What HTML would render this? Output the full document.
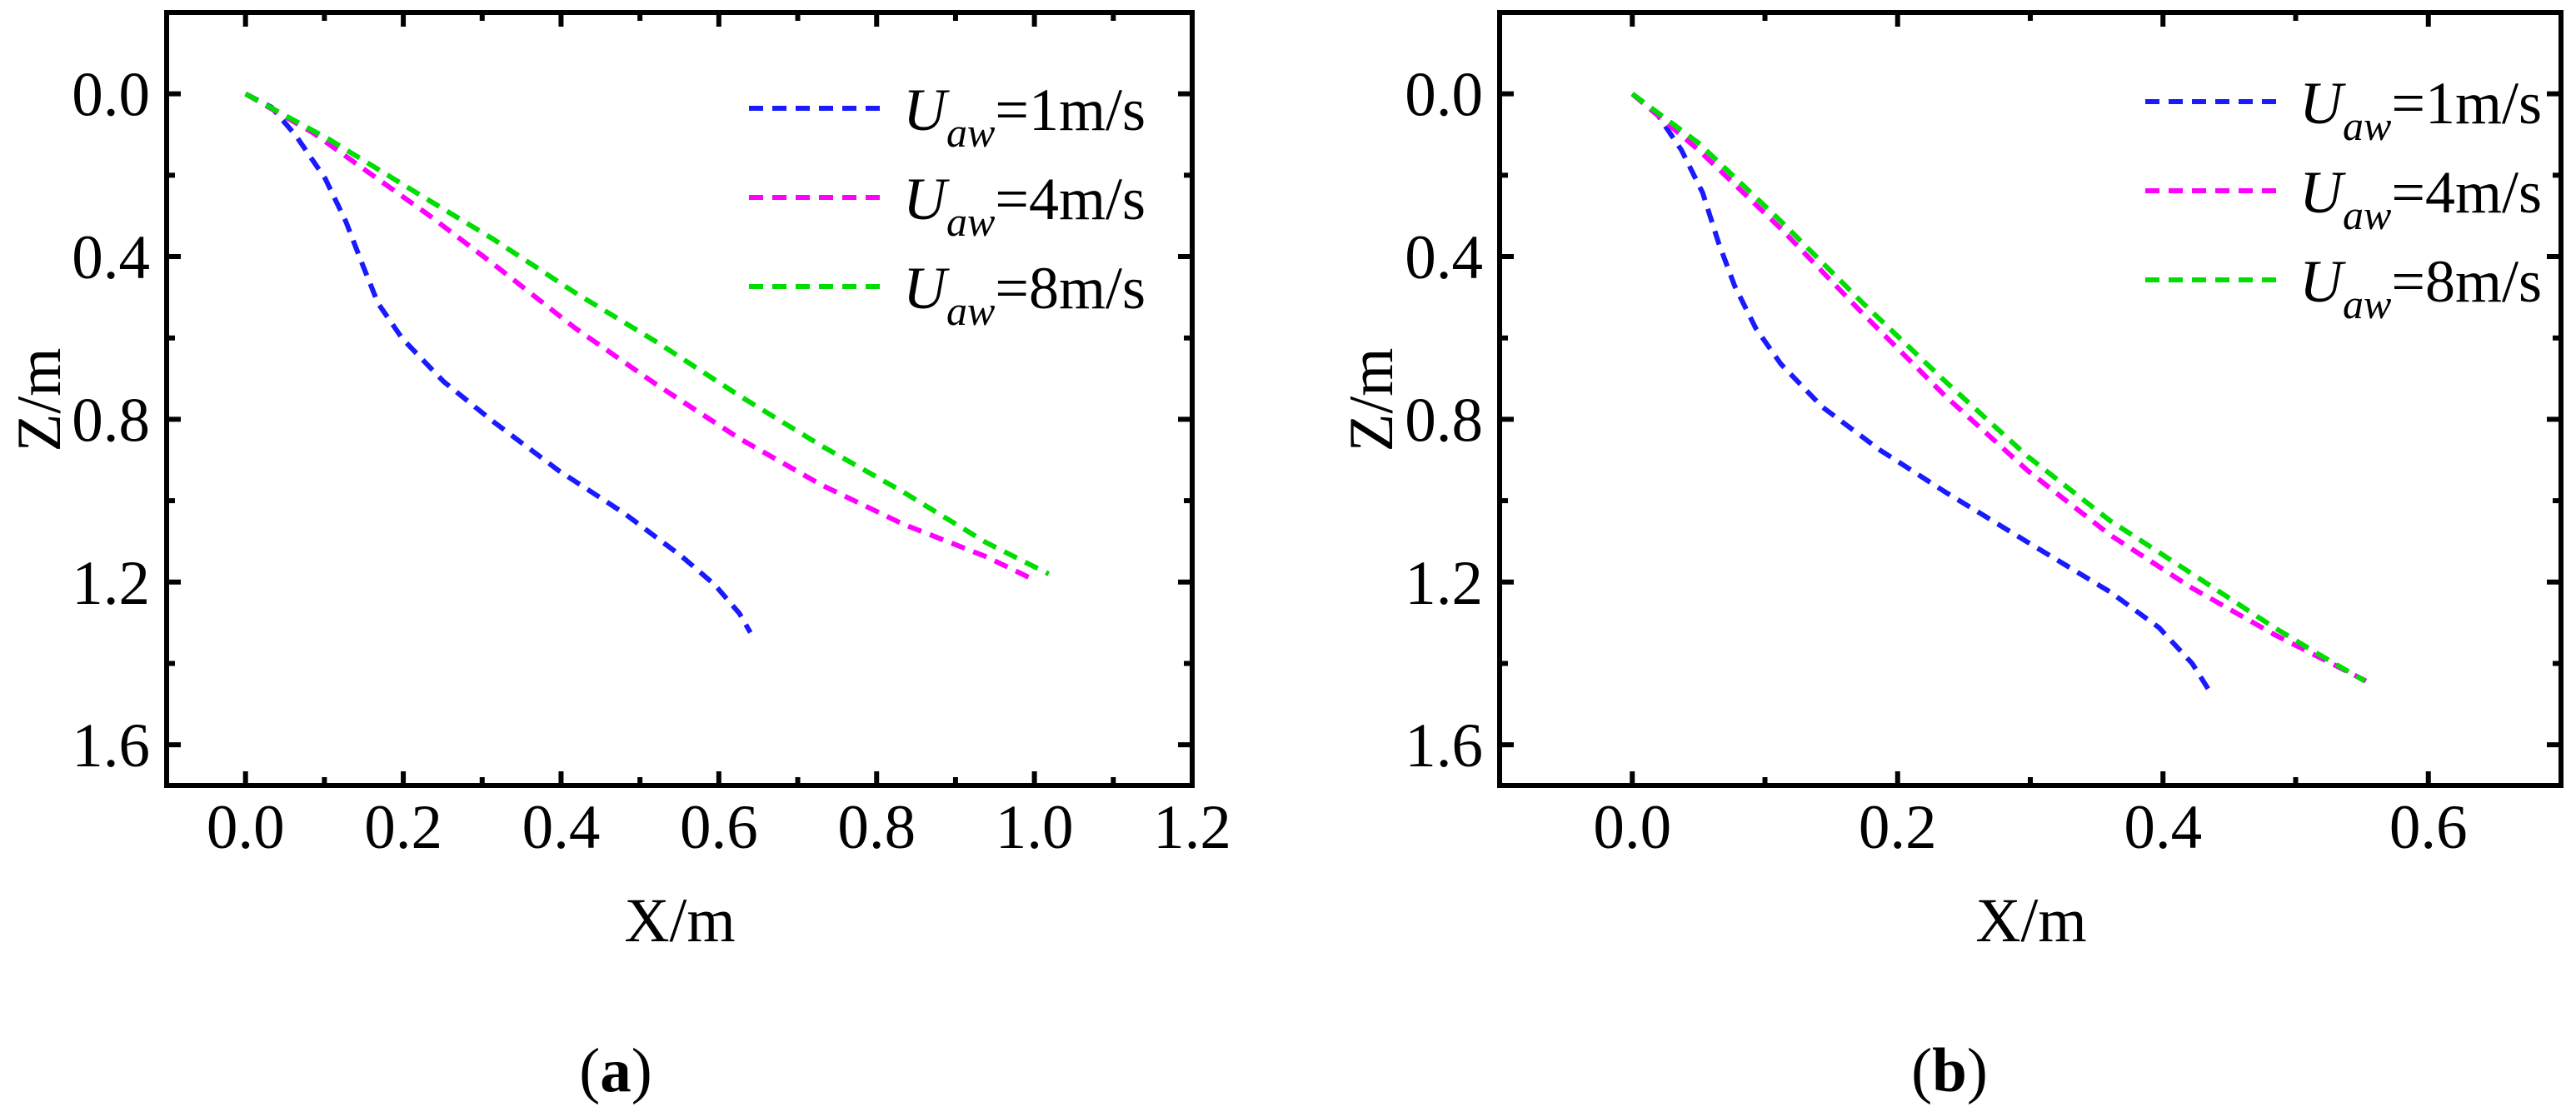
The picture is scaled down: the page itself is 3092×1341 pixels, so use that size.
<!DOCTYPE html>
<html><head><meta charset="utf-8"><style>
html,body{margin:0;padding:0;background:#fff;}
svg{display:block;font-family:"Liberation Serif",serif;}
</style></head><body>
<svg id="fig" width="3092" height="1341" viewBox="0 0 3092 1341" xmlns="http://www.w3.org/2000/svg">
<g id="pa"></g>
<g id="pb"></g>
<text x="739" y="1310" font-size="75" text-anchor="middle">(<tspan font-weight="bold">a</tspan>)</text>
<text x="2340" y="1310" font-size="75" text-anchor="middle">(<tspan font-weight="bold">b</tspan>)</text>
</svg>
<script>
// Panel (a) data
const aBlueX=[0,0.033,0.064,0.101,0.127,0.148,0.168,0.199,0.251,0.313,0.397,0.480,0.553,0.595,0.626,0.640];
const aBlueZ=[0,0.033,0.103,0.208,0.313,0.418,0.515,0.602,0.707,0.804,0.926,1.031,1.137,1.207,1.277,1.324];
const aMagX=[0,0.085,0.148,0.231,0.314,0.418,0.522,0.626,0.730,0.834,0.938,0.998];
const aMagZ=[0,0.095,0.182,0.296,0.418,0.576,0.716,0.847,0.961,1.058,1.137,1.193];
const aGrnX=[0,0.106,0.210,0.314,0.418,0.522,0.626,0.730,0.834,0.938,1.018];
const aGrnZ=[0,0.112,0.235,0.357,0.489,0.611,0.742,0.865,0.979,1.102,1.18];
// Panel (b) data
const bBlueX=[0,0.019,0.037,0.053,0.065,0.077,0.093,0.112,0.143,0.186,0.236,0.298,0.360,0.397,0.422,0.437];
const bBlueZ=[0,0.051,0.138,0.243,0.366,0.471,0.576,0.664,0.769,0.874,0.979,1.102,1.224,1.312,1.400,1.478];
const bMagX=[0,0.050,0.112,0.174,0.236,0.298,0.360,0.422,0.484,0.553];
const bMagZ=[0,0.138,0.331,0.541,0.743,0.926,1.084,1.215,1.329,1.443];
const bGrnX=[0,0.050,0.112,0.174,0.236,0.298,0.360,0.422,0.484,0.515,0.552];
const bGrnZ=[0,0.121,0.313,0.515,0.707,0.891,1.049,1.180,1.312,1.373,1.443];
const aXTicks=[0,0.2,0.4,0.6,0.8,1.0,1.2];
const aXLabels=["0.0","0.2","0.4","0.6","0.8","1.0","1.2"];
const bXTicks=[0,0.2,0.4,0.6];
const bXLabels=["0.0","0.2","0.4","0.6"];
const zTicks=[0,0.4,0.8,1.2,1.6];
const zLabels=["0.0","0.4","0.8","1.2","1.6"];
const legendLabels=["1m/s","4m/s","8m/s"];
const colors=["#1a1aff","#ff00ff","#00dd00"];
const NS="http://www.w3.org/2000/svg";
function mk(p,tag,at){const e=document.createElementNS(NS,tag);for(const k in at)e.setAttribute(k,at[k]);p.appendChild(e);return e;}

function panel(g,cfg){
  const sx=v=>cfg.L+(v-cfg.x0)/(cfg.x1-cfg.x0)*(cfg.R-cfg.L);
  const sy=v=>cfg.T+(v-(-0.2))/(1.7-(-0.2))*(cfg.B-cfg.T);
  // ticks
  for(let v=cfg.x0;v<=cfg.x1+1e-9;v+=0.1){
    const major=cfg.xt.some(t=>Math.abs(t-v)<1e-6);const len=major?17:10;const x=sx(v);
    let t=mk(g,'line',{x1:x,y1:cfg.B,x2:x,y2:cfg.B-len,stroke:'#000','stroke-width':6});
    
    
    t=mk(g,'line',{x1:x,y1:cfg.T,x2:x,y2:cfg.T+len,stroke:'#000','stroke-width':6});
    
    
  }
  for(let v=-0.2;v<=1.7+1e-9;v+=0.2){
    const major=zTicks.some(t=>Math.abs(t-v)<1e-6);const len=major?17:10;const y=sy(v);
    let t=mk(g,'line',{x1:cfg.L,y1:y,x2:cfg.L+len,y2:y,stroke:'#000','stroke-width':6});
    
    
    t=mk(g,'line',{x1:cfg.R,y1:y,x2:cfg.R-len,y2:y,stroke:'#000','stroke-width':6});
    
    
  }
  const fr=mk(g,'rect',{x:cfg.L,y:cfg.T,width:cfg.R-cfg.L,height:cfg.B-cfg.T,fill:'none',stroke:'#000','stroke-width':6});
  
  
  cfg.xt.forEach((v,i)=>{const t=mk(g,'text',{x:sx(v),y:1018,'font-size':75,'text-anchor':'middle'});t.textContent=cfg.xl[i];
    
    });
  zTicks.forEach((v,i)=>{const t=mk(g,'text',{x:cfg.L-20,y:sy(v)+26,'font-size':75,'text-anchor':'end'});t.textContent=zLabels[i];
    
    });
  let t=mk(g,'text',{x:cfg.xtx,y:1130,'font-size':75,'text-anchor':'middle'});t.textContent='X/m';
  
  
  t=mk(g,'text',{x:0,y:0,'font-size':75,'text-anchor':'middle',transform:`translate(${cfg.ztx},480) rotate(-90)`});t.textContent='Z/m';
  
  
  const names=['series-1ms','series-4ms','series-8ms'];
  cfg.series.forEach((s,k)=>{
    const d=s[0].map((x,i)=>(i?'L':'M')+sx(x).toFixed(1)+','+sy(s[1][i]).toFixed(1)).join(' ');
    const p=mk(g,'path',{d:d,fill:'none',stroke:colors[k],'stroke-width':6,'stroke-dasharray':'17 11'});
    
    
  });
  legendLabels.forEach((lab,k)=>{
    const y=cfg.ly+k*107;
    const l=mk(g,'line',{x1:cfg.lx,y1:y,x2:cfg.lx+158,y2:y,stroke:colors[k],'stroke-width':6,'stroke-dasharray':'17 11'});
    
    
    const tx=mk(g,'text',{x:cfg.lx+185,y:y+26,'font-size':72});
    
    
    const u=mk(tx,'tspan',{'font-style':'italic'});u.textContent='U';
    const s=mk(tx,'tspan',{'font-style':'italic','font-size':50,dy:20});s.textContent='aw';
    const r=mk(tx,'tspan',{dy:-20});r.textContent='='+lab;
  });
}
panel(document.getElementById('pa'),{L:200,R:1431,T:15,B:943,x0:-0.1,x1:1.2,xt:aXTicks,xl:aXLabels,xtx:816,ztx:72,lx:899,ly:130,
  series:[[aBlueX,aBlueZ],[aMagX,aMagZ],[aGrnX,aGrnZ]]});
panel(document.getElementById('pb'),{L:1800,R:3074,T:15,B:943,x0:-0.1,x1:0.7,xt:bXTicks,xl:bXLabels,xtx:2438,ztx:1671,lx:2575,ly:122,
  series:[[bBlueX,bBlueZ],[bMagX,bMagZ],[bGrnX,bGrnZ]]});
</script>
</body></html>
